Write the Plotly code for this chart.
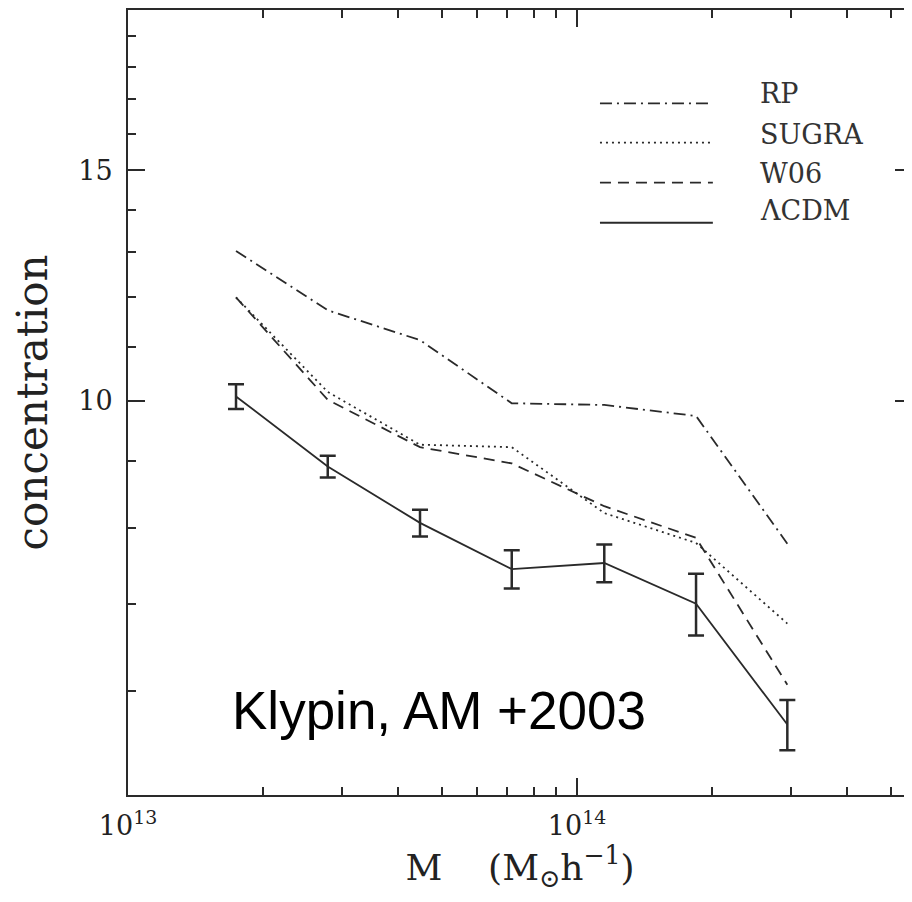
import plotly.graph_objects as go

# ---- data ----
mass = [1.74e13, 2.785e13, 4.47e13, 7.155e13, 1.15e14, 1.841e14, 2.94e14]
c_rp = [13.02, 11.73, 11.13, 9.96, 9.93, 9.74, 7.78]
c_sugra = [12.0, 10.16, 9.26, 9.22, 8.21, 7.79, 6.76]
c_w06 = [12.0, 10.02, 9.22, 8.96, 8.31, 7.86, 6.07]
c_lcdm = [10.08, 8.91, 8.07, 7.44, 7.52, 7.00, 5.66]
c_lcdm_err = [0.22, 0.17, 0.19, 0.25, 0.25, 0.38, 0.25]

series_names = ["RP", "SUGRA", "W06", "\u039bCDM"]
series_values = [c_rp, c_sugra, c_w06, c_lcdm]
series_dash = ["12px,5px,2px,5px", "2px,4px", "11px,7px", "solid"]

x_tickvals = [1e13, 1e14]
x_ticktext = ["10<sup>13</sup>", "10<sup>14</sup>"]
x_minor = [2e13, 3e13, 4e13, 5e13, 6e13, 7e13, 8e13, 9e13, 2e14, 3e14, 4e14, 5e14]
y_tickvals = [10, 15]
y_ticktext = ["10", "15"]
y_minor = [6, 7, 8, 9, 11, 12, 13, 14, 16, 17, 18, 19]

x_range_log = [13.0, 14.746]
y_range_log = [0.69897, 1.2987]

INK = "#2a2a2a"
SERIF = "DejaVu Serif"

fig = go.Figure()

for name, vals, dash in zip(series_names, series_values, series_dash):
    kw = {}
    if name == "\u039bCDM":
        kw["error_y"] = dict(type="data", array=c_lcdm_err, visible=True,
                             color=INK, thickness=2.5, width=8)
    fig.add_trace(go.Scatter(
        x=mass, y=vals, mode="lines", name=name,
        line=dict(color=INK, width=1.8, dash=dash),
        showlegend=False, **kw))

# legend drawn manually (long line samples as in the original)
leg_y_line = [0.881, 0.831, 0.780, 0.729]
leg_y_text = [0.894, 0.841, 0.792, 0.744]
for name, dash, yl, yt in zip(series_names, series_dash, leg_y_line, leg_y_text):
    fig.add_shape(type="line", xref="paper", yref="paper",
                  x0=0.602, x1=0.746, y0=yl, y1=yl,
                  line=dict(color=INK, width=1.8, dash=dash))
    fig.add_annotation(xref="paper", yref="paper", x=0.8036, y=yt,
                       xanchor="left", yanchor="middle", showarrow=False,
                       text=name, font=dict(family=SERIF, size=27, color="#333"))

fig.add_annotation(xref="paper", yref="paper", x=0.130, y=0.108,
                   xanchor="left", yanchor="middle", showarrow=False,
                   text="Klypin, AM +2003",
                   font=dict(family="Liberation Sans", size=53, color="black"))

axis_common = dict(
    showline=True, linecolor=INK, linewidth=2, mirror="ticks",
    ticks="inside", ticklen=17, tickwidth=1.6, tickcolor=INK,
    showgrid=False, zeroline=False, automargin=False,
    tickfont=dict(family=SERIF, size=27, color="#222"),
)

fig.update_xaxes(
    type="log", range=x_range_log,
    tickmode="array", tickvals=x_tickvals, ticktext=x_ticktext,
    minor=dict(tickmode="array", tickvals=x_minor, ticks="inside", ticklen=8,
               tickwidth=1.6, tickcolor=INK, showgrid=False),
    ticklabelstandoff=6,
    title=dict(text="M\u00a0\u00a0\u00a0\u00a0(M<sub>\u2299</sub>h<sup>\u22121</sup>)",
               font=dict(family=SERIF, size=36, color="#222"), standoff=14),
    **axis_common)

fig.update_yaxes(
    type="log", range=y_range_log,
    tickmode="array", tickvals=y_tickvals, ticktext=y_ticktext,
    minor=dict(tickmode="array", tickvals=y_minor, ticks="inside", ticklen=8,
               tickwidth=1.6, tickcolor=INK, showgrid=False),
    ticklabelstandoff=8,
    title=dict(text="concentration", font=dict(family=SERIF, size=42, color="#222"),
               standoff=20),
    **axis_common)

# page body has an 8px margin: size the figure so it fits the 912x902 window
fig.update_layout(
    width=904, height=894,
    margin=dict(l=120, r=0, t=2, b=107),
    paper_bgcolor="white", plot_bgcolor="white",
    showlegend=False,
)

fig.write_html("out.html")
